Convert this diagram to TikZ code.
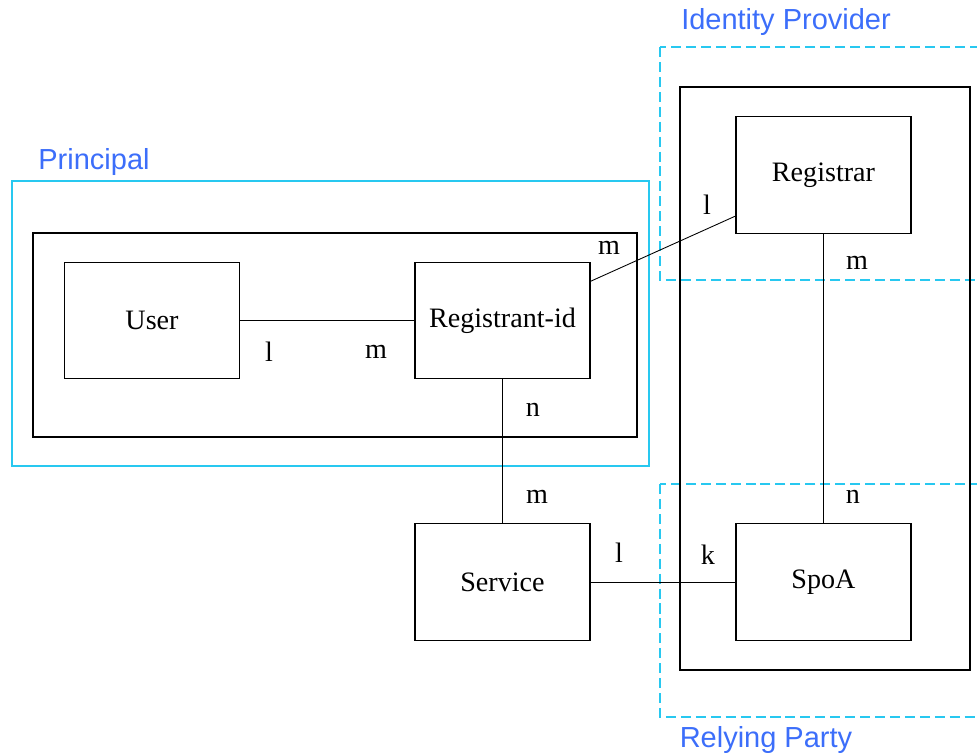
\documentclass[tikz,border=0pt]{standalone}
\usepackage{fontspec}
\setmainfont{Liberation Serif}
\newfontfamily\groupfont{Liberation Sans}
\usetikzlibrary{positioning}
\definecolor{groupcyan}{RGB}{40,200,240}
\definecolor{groupblue}{RGB}{60,110,250}
\begin{document}
\begin{tikzpicture}[x=0.02cm, y=-0.02cm]
\tikzset{
  entity/.style = {draw, line width=.8pt, minimum width=3.5cm, minimum height=2.33cm, inner sep=0pt, font=\fontsize{16}{19}\selectfont},
  card/.style = {inner sep=0pt, font=\fontsize{16}{19}\selectfont},
  grouplabel/.style = {inner sep=0pt, text=groupblue, font=\groupfont\fontsize{16.5}{19}\selectfont},
  groupline/.style = {draw=groupcyan, line width=.9pt},
  groupdash/.style = {draw=groupcyan, line width=.9pt, dash pattern=on 5.7pt off 2.8pt}
}
\clip (0,0) rectangle (977,755);
% groups
\draw[groupline] (12,181) rectangle (649,466);
\node[grouplabel] (principal) at (94,162) {Principal};
\draw[groupdash] (660,47) rectangle (990,280);
\node[grouplabel] (idp) at (786,22) {Identity Provider};
\draw[groupdash] (660,484) rectangle (990,717);
\node[grouplabel] (rp) at (766,740) {Relying Party};
% containers
\draw[line width=.8pt] (33,233) rectangle (637,437);
\draw[line width=.8pt] (680,87) rectangle (970,670);
% entities
\node[entity] (user) at (152,320.5) {User};
\node[entity] (regid) at (502.5,320.5) {Registrant-id};
\node[entity] (service) at (502.5,582) {Service};
\node[entity] (registrar) at (823.5,175) {Registrar};
\node[entity] (spoa) at (823.5,582) {SpoA};
% relations
\draw[line width=.5pt] (user) -- (regid);
\node[card] at (269,352) {l};
\node[card] at (376,352) {m};
\draw[line width=.5pt] (regid.24) -- (registrar.205);
\node[card] at (609,248) {m};
\node[card] at (707,205) {l};
\draw[line width=.5pt] (regid) -- (service);
\node[card] at (533,410) {n};
\node[card] at (537,497) {m};
\draw[line width=.5pt] (service) -- (spoa);
\node[card] at (619,553) {l};
\node[card] at (708,555) {k};
\draw[line width=.5pt] (registrar) -- (spoa);
\node[card] at (857,263) {m};
\node[card] at (853,497) {n};
\end{tikzpicture}
\end{document}
